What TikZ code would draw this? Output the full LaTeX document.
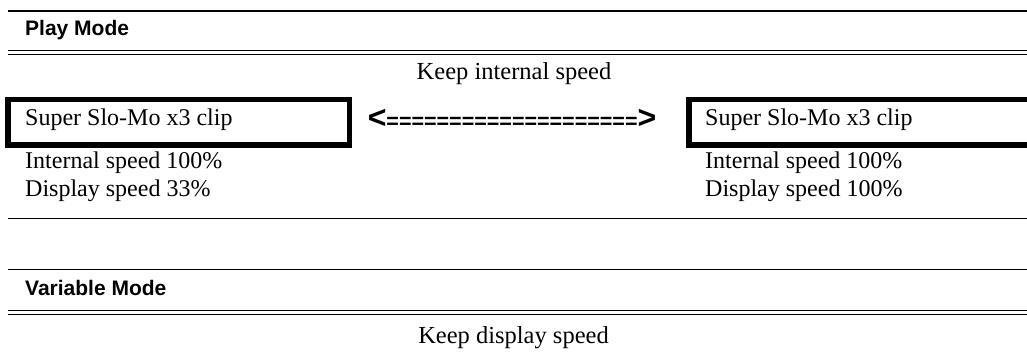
\documentclass[tikz,border=0pt]{standalone}
\usepackage{fontspec}
\setmainfont{Liberation Serif}
\newfontfamily\hsans{Liberation Sans}
\begin{document}
\begin{tikzpicture}[x=1pt,y=-1pt,
  rule/.style={line width=1.3pt},
  thinrule/.style={line width=1pt},
  head/.style={inner sep=0pt,anchor=base west,font=\hsans\bfseries\fontsize{21}{24}\selectfont},
  body/.style={inner sep=0pt,anchor=base west,font=\fontsize{24}{28}\selectfont},
  ctr/.style={inner sep=0pt,anchor=base,font=\fontsize{24.5}{28}\selectfont}]
\useasboundingbox (0,0) rectangle (1027,352);
% Play Mode section
\draw[rule] (8,11) -- (1027,11);
\node[head] (play) at (25,36) {Play Mode};
\draw[thinrule] (8,51) -- (1027,51);
\draw[thinrule] (8,54.3) -- (1027,54.3);
\node[ctr] (keepint) at (514,80) {Keep internal speed};
\begin{scope}
\clip (0,0) rectangle (1027,352);
\draw[line width=5.5pt] (8,99.3) rectangle (349.7,145);
\draw[line width=5.5pt] (689,99.3) rectangle (1040,145);
\end{scope}
\node[body] (clipL) at (25,126) {Super Slo-Mo x3 clip};
\node[body] (clipR) at (705,126) {Super Slo-Mo x3 clip};
\node[inner sep=0pt,anchor=center] (arrow) at (512,119)
  {\hsans\bfseries{\fontsize{32}{32}\selectfont <}{\fontsize{21.5}{24}\selectfont ====================}{\fontsize{32}{32}\selectfont >}};
\node[body] (intL) at (25,169) {Internal speed 100\%};
\node[body] (dispL) at (25,197) {Display speed 33\%};
\node[body] (intR) at (705,169) {Internal speed 100\%};
\node[body] (dispR) at (705,197) {Display speed 100\%};
\draw[rule] (8,218.5) -- (1027,218.5);
% Variable Mode section
\draw[rule] (8,269.3) -- (1027,269.3);
\node[head] (var) at (25,295) {Variable Mode};
\draw[thinrule] (8,310.5) -- (1027,310.5);
\draw[thinrule] (8,314.2) -- (1027,314.2);
\node[ctr] (keepdisp) at (513.5,343) {Keep display speed};
\end{tikzpicture}
\end{document}
